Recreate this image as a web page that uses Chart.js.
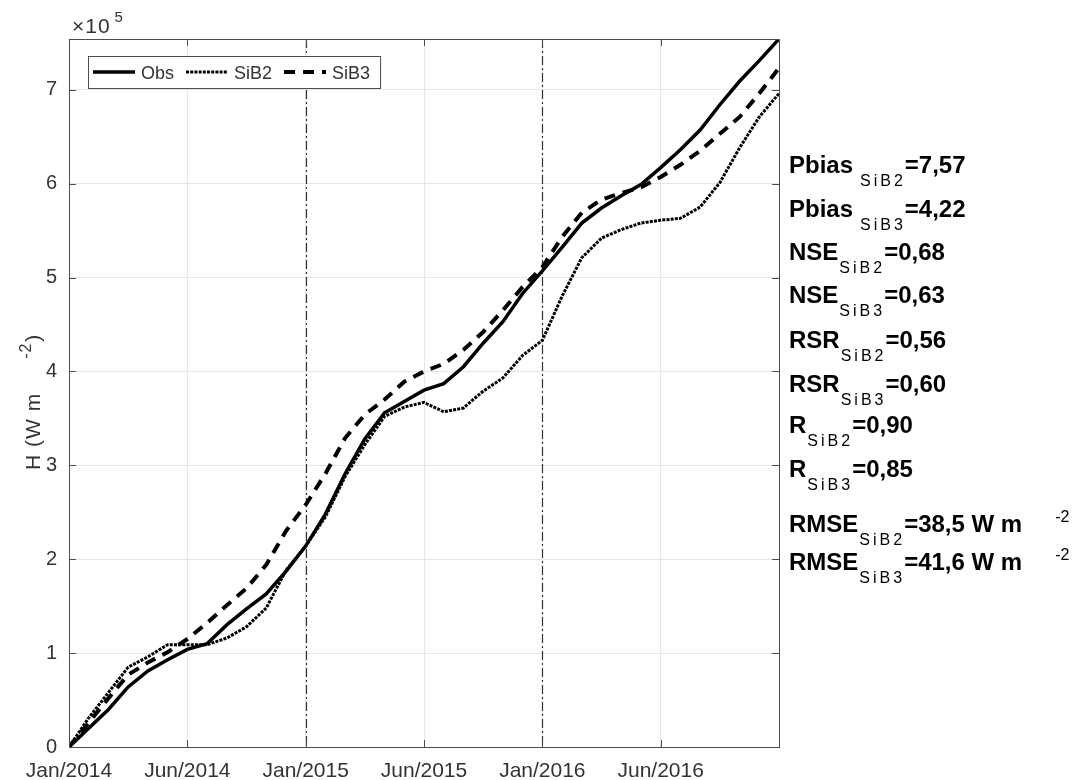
<!DOCTYPE html>
<html>
<head>
<meta charset="utf-8">
<title>H acumulado</title>
<script src="https://cdn.jsdelivr.net/npm/chart.js@4.4.1/dist/chart.umd.min.js"></script>
<style>
  html, body { margin: 0; padding: 0; background: #fff; }
  #wrap { width: 1091px; height: 780px; }
</style>
</head>
<body>
<div id="wrap"><canvas id="hChart" width="1091" height="780"></canvas></div>
<script>
// months since Jan/2014
const months = [0, 1, 2, 3, 4, 5, 6, 7, 8, 9, 10, 11, 12, 13, 14, 15, 16, 17, 18,
  19, 20, 21, 22, 23, 24, 25, 26, 27, 28, 29, 30, 31, 32, 33, 34, 35, 36];

// cumulative sensible heat flux, x10^5 W m-2
const obsH = [0, 0.20, 0.40, 0.64, 0.81, 0.93, 1.04, 1.10, 1.30, 1.47, 1.63, 1.87,
  2.14, 2.48, 2.91, 3.28, 3.56, 3.68, 3.80, 3.87, 4.05, 4.30, 4.53, 4.83,
  5.07, 5.32, 5.58, 5.74, 5.87, 5.99, 6.17, 6.36, 6.57, 6.84, 7.09, 7.31, 7.54];
const sib2H = [0, 0.31, 0.58, 0.85, 0.96, 1.09, 1.09, 1.09, 1.16, 1.28, 1.48, 1.88,
  2.14, 2.45, 2.88, 3.22, 3.52, 3.62, 3.67, 3.57, 3.61, 3.79, 3.93, 4.17,
  4.33, 4.80, 5.21, 5.42, 5.51, 5.58, 5.61, 5.63, 5.75, 6.01, 6.38, 6.71, 6.96];
const sib3H = [0, 0.26, 0.52, 0.77, 0.90, 1.01, 1.15, 1.32, 1.51, 1.69, 1.94, 2.30,
  2.58, 2.91, 3.29, 3.54, 3.70, 3.89, 4.00, 4.08, 4.23, 4.42, 4.65, 4.90,
  5.11, 5.43, 5.69, 5.83, 5.90, 5.96, 6.07, 6.20, 6.35, 6.53, 6.71, 6.96, 7.23];

const xTickMonths = [0, 6, 12, 18, 24, 30];
const xTickLabels = ['Jan/2014', 'Jun/2014', 'Jan/2015', 'Jun/2015', 'Jan/2016', 'Jun/2016'];
const yTicks = [0, 1, 2, 3, 4, 5, 6, 7];
const yearMarks = [12, 24];

// performance metrics per model
const modelNames = ['SiB2', 'SiB3'];
const pbias = [7.57, 4.22];
const nse = [0.68, 0.63];
const rsr = [0.56, 0.60];
const corr = [0.90, 0.85];
const rmse = [38.5, 41.6];

const FONT = '"Liberation Sans", Arial, Helvetica, sans-serif';
const AXIS = '#4d4d4d';
const TEXT = '#333333';

function toPoints(vals) {
  return months.map((m, i) => ({ x: m, y: vals[i] }));
}

function fmt(v, d) {
  return v.toFixed(d).replace('.', ',');
}

const statRows = [];
[['Pbias', pbias, 2, 7], ['NSE', nse, 2, 1], ['RSR', rsr, 2, 1], ['R', corr, 2, 1], ['RMSE', rmse, 1, 1]]
  .forEach(([name, vals, dec, gap]) => {
    vals.forEach((v, i) => {
      statRows.push({ name, gap, sub: modelNames[i], val: '=' + fmt(v, dec) + (name === 'RMSE' ? ' W m' : ''), unit: name === 'RMSE' });
    });
  });
const statBaselines = [173, 217, 260, 303, 348, 392, 433, 477, 532, 570];

const plotDecor = {
  id: 'plotDecor',
  beforeDatasetsDraw(chart) {
    const { ctx, chartArea: a, scales: { x } } = chart;
    ctx.save();
    ctx.strokeStyle = '#333';
    ctx.lineWidth = 1.2;
    ctx.setLineDash([9, 3, 2, 3]);
    yearMarks.forEach(m => {
      const px = Math.round(x.getPixelForValue(m)) + 0.5;
      ctx.beginPath();
      ctx.moveTo(px, a.top);
      ctx.lineTo(px, a.bottom);
      ctx.stroke();
    });
    ctx.restore();
  },
  afterDatasetsDraw(chart) {
    const { ctx, chartArea: a, scales: { x, y } } = chart;
    ctx.save();

    // axes box with inward ticks
    ctx.strokeStyle = AXIS;
    ctx.lineWidth = 1;
    ctx.strokeRect(a.left + 0.5, a.top + 0.5, a.right - a.left, a.bottom - a.top);
    ctx.beginPath();
    xTickMonths.forEach(m => {
      const px = Math.round(x.getPixelForValue(m)) + 0.5;
      ctx.moveTo(px, a.bottom); ctx.lineTo(px, a.bottom - 7);
      ctx.moveTo(px, a.top); ctx.lineTo(px, a.top + 7);
    });
    yTicks.forEach(v => {
      const py = Math.round(y.getPixelForValue(v)) + 0.5;
      ctx.moveTo(a.left, py); ctx.lineTo(a.left + 7, py);
      ctx.moveTo(a.right, py); ctx.lineTo(a.right - 7, py);
    });
    ctx.stroke();

    // exponent above y axis
    ctx.fillStyle = TEXT;
    ctx.textBaseline = 'alphabetic';
    ctx.textAlign = 'left';
    ctx.font = '21px ' + FONT;
    ctx.letterSpacing = '1px';
    ctx.fillText('\u00d710', a.left + 3, a.top - 6);
    const ew = ctx.measureText('\u00d710').width;
    ctx.font = '15px ' + FONT;
    ctx.fillText('5', a.left + 7 + ew, a.top - 17);
    ctx.letterSpacing = '0px';

    // y axis title
    ctx.save();
    ctx.translate(40, 470);
    ctx.rotate(-Math.PI / 2);
    ctx.font = '21px ' + FONT;
    ctx.letterSpacing = '1px';
    ctx.fillText('H (W m', 0, 0);
    let tw = ctx.measureText('H (W m').width + 34;
    ctx.font = '16px ' + FONT;
    ctx.fillText('-2', tw, -9);
    tw += ctx.measureText('-2').width + 1;
    ctx.font = '21px ' + FONT;
    ctx.fillText(')', tw, 0);
    ctx.letterSpacing = '0px';
    ctx.restore();

    // legend
    ctx.font = '18px ' + FONT;
    const lgX = 88, lgY = 56, lgH = 32, sample = 42;
    let cur = lgX + 5;
    const items = chart.data.datasets.map(ds => {
      const it = { ds, x0: cur, tx: cur + sample + 6 };
      cur = it.tx + ctx.measureText(ds.label).width + 12;
      return it;
    });
    const lgW = cur - lgX - 2;
    ctx.fillStyle = '#fff';
    ctx.fillRect(lgX, lgY, lgW, lgH);
    ctx.strokeStyle = AXIS;
    ctx.setLineDash([]);
    ctx.strokeRect(lgX + 0.5, lgY + 0.5, lgW, lgH);
    items.forEach(it => {
      const cy = lgY + lgH / 2;
      ctx.strokeStyle = '#000';
      ctx.lineWidth = it.ds.borderWidth;
      ctx.setLineDash(it.ds.borderDash || []);
      ctx.beginPath();
      ctx.moveTo(it.x0, cy);
      ctx.lineTo(it.x0 + sample, cy);
      ctx.stroke();
      ctx.setLineDash([]);
      ctx.fillStyle = TEXT;
      ctx.fillText(it.ds.label, it.tx, cy + 7);
    });

    // metrics to the right of the axes
    ctx.fillStyle = '#000';
    statRows.forEach((row, i) => {
      const base = statBaselines[i];
      let cx = 789;
      ctx.font = 'bold 24px ' + FONT;
      ctx.fillText(row.name, cx, base);
      cx += ctx.measureText(row.name).width + row.gap;
      ctx.font = '16px ' + FONT;
      ctx.letterSpacing = '3px';
      ctx.fillText(row.sub, cx, base + 13);
      cx += ctx.measureText(row.sub).width - 1;
      ctx.letterSpacing = '0px';
      ctx.font = 'bold 24px ' + FONT;
      ctx.fillText(row.val, cx, base);
      if (row.unit) {
        cx += ctx.measureText(row.val).width + 33;
        ctx.font = '16px ' + FONT;
        ctx.fillText('-2', cx, base - 10);
      }
    });
    ctx.restore();
  }
};

new Chart(document.getElementById('hChart'), {
  type: 'line',
  data: {
    datasets: [
      { label: 'Obs', data: toPoints(obsH), borderColor: '#000', borderWidth: 3.5, pointRadius: 0, tension: 0 },
      { label: 'SiB2', data: toPoints(sib2H), borderColor: '#000', borderWidth: 3, borderDash: [3, 1.2], pointRadius: 0, tension: 0 },
      { label: 'SiB3', data: toPoints(sib3H), borderColor: '#000', borderWidth: 4, borderDash: [11, 8], pointRadius: 0, tension: 0 },
    ],
  },
  options: {
    responsive: false,
    animation: false,
    devicePixelRatio: 1,
    layout: { padding: { left: 0, top: 39, right: 312, bottom: 0 } },
    plugins: {
      legend: { display: false },
      tooltip: { enabled: false },
    },
    scales: {
      x: {
        type: 'linear',
        min: 0,
        max: 36,
        afterBuildTicks: (scale) => { scale.ticks = xTickMonths.map(v => ({ value: v })); },
        afterFit: (scale) => { scale.height = 33; },
        ticks: {
          autoSkip: false,
          maxRotation: 0,
          padding: 12,
          color: TEXT,
          font: { family: FONT, size: 21 },
          callback: (v) => xTickLabels[xTickMonths.indexOf(v)],
        },
        grid: { color: '#e6e6e6', drawTicks: false },
        border: { display: false },
      },
      y: {
        min: 0,
        max: 7.54,
        afterBuildTicks: (scale) => { scale.ticks = yTicks.map(v => ({ value: v })); },
        afterFit: (scale) => { scale.width = 69; },
        ticks: {
          padding: 12,
          color: TEXT,
          font: { family: FONT, size: 20 },
        },
        grid: { color: '#e6e6e6', drawTicks: false },
        border: { display: false },
      },
    },
  },
  plugins: [plotDecor],
});
</script>
</body>
</html>
